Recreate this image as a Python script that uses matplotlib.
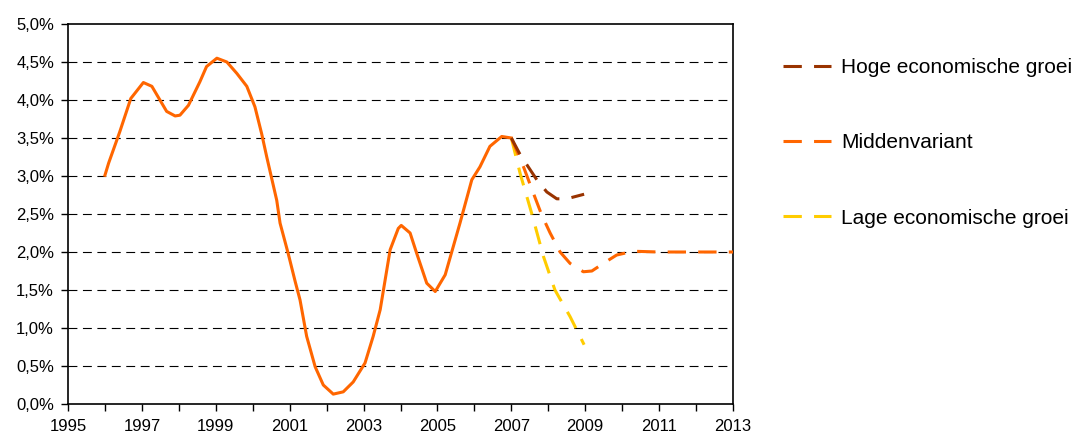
import matplotlib
matplotlib.use("Agg")
import matplotlib.pyplot as plt
from matplotlib.ticker import MultipleLocator, FixedLocator, FuncFormatter

plt.rcParams['font.family'] = ['Liberation Sans', 'DejaVu Sans']

# Historical inflation (%)
hist_years = [1996.0, 1996.1, 1996.4, 1996.7, 1997.04, 1997.27, 1997.67, 1997.9, 1998.03,
              1998.26, 1998.57, 1998.75, 1999.03, 1999.3, 1999.57, 1999.84, 2000.06,
              2000.24, 2000.38, 2000.65, 2000.74, 2000.96, 2001.15, 2001.28, 2001.46,
              2001.69, 2001.91, 2002.18, 2002.45, 2002.72, 2003.04, 2003.26, 2003.45,
              2003.72, 2003.94, 2004.02, 2004.26, 2004.44, 2004.71, 2004.94, 2005.21,
              2005.61, 2005.93, 2006.15, 2006.42, 2006.74, 2007.0]
hist_vals = [3.01, 3.17, 3.58, 4.02, 4.23, 4.18, 3.85, 3.79, 3.80,
             3.93, 4.24, 4.44, 4.55, 4.50, 4.35, 4.18, 3.91,
             3.56, 3.25, 2.68, 2.38, 1.98, 1.61, 1.37, 0.89,
             0.49, 0.25, 0.13, 0.16, 0.29, 0.54, 0.89, 1.24,
             2.03, 2.31, 2.35, 2.25, 1.98, 1.59, 1.48, 1.70,
             2.38, 2.95, 3.12, 3.39, 3.52, 3.50]

# Scenario: high growth
hoog_years = [2007.0, 2007.24, 2007.69, 2007.96, 2008.23, 2008.5, 2008.97]
hoog_vals = [3.50, 3.28, 2.95, 2.79, 2.70, 2.70, 2.76]

# Scenario: middle variant
midden_years = [2007.0, 2007.33, 2007.6, 2007.82, 2008.05, 2008.32, 2008.59, 2008.95,
                2009.18, 2009.49, 2009.85, 2010.3, 2011.0, 2012.0, 2013.0]
midden_vals = [3.50, 3.12, 2.77, 2.49, 2.25, 2.00, 1.85, 1.74,
               1.75, 1.85, 1.96, 2.01, 2.00, 2.00, 2.00]

# Scenario: low growth
laag_years = [2007.0, 2007.24, 2007.55, 2007.87, 2008.18, 2008.59, 2008.97]
laag_vals = [3.50, 3.03, 2.51, 1.94, 1.50, 1.15, 0.78]

labels = ['Hoge economische groei', 'Middenvariant', 'Lage economische groei']
colors = ['#993300', '#FF6600', '#FFCC00']
xticks = [1995, 1997, 1999, 2001, 2003, 2005, 2007, 2009, 2011, 2013]

fig = plt.figure(figsize=(10.78, 4.36), dpi=100)
ax = fig.add_axes([68 / 1078, 1 - 404 / 436, (733 - 68) / 1078, (404 - 24) / 436])

dash = (6, 4)
lw = 2.2
ax.plot(hist_years, hist_vals, color='#FF6600', lw=lw, solid_joinstyle='round', zorder=3)
h1, = ax.plot(laag_years, laag_vals, color=colors[2], lw=lw, dashes=dash, zorder=3)
h2, = ax.plot(midden_years, midden_vals, color=colors[1], lw=lw, dashes=dash, zorder=4)
h3, = ax.plot(hoog_years, hoog_vals, color=colors[0], lw=lw, dashes=dash, zorder=4)

ax.set_xlim(1995, 2013)
ax.set_ylim(0, 5)
ax.xaxis.set_major_locator(FixedLocator(xticks))
ax.xaxis.set_minor_locator(MultipleLocator(1))
ax.yaxis.set_major_locator(MultipleLocator(0.5))
ax.yaxis.set_major_formatter(FuncFormatter(lambda v, p: f"{v:.1f}%".replace('.', ',')))
ax.tick_params(axis='both', which='both', direction='out', length=5, width=1, labelsize=12, color='black')
ax.tick_params(axis='x', pad=6)
ax.tick_params(axis='y', pad=5)

for v in [0.5, 1, 1.5, 2, 2.5, 3, 3.5, 4, 4.5]:
    ax.axhline(v, color='black', lw=0.8, dashes=(8, 5), zorder=1)

for s in ax.spines.values():
    s.set_linewidth(1.2)
    s.set_color('black')

fig.legend([h3, h2, h1], labels, loc='upper left', bbox_to_anchor=(783 / 1078, 1 - 58 / 436),
           frameon=False, fontsize=15, handlelength=2.3, handletextpad=0.5,
           labelspacing=2.7, borderpad=0, borderaxespad=0)

fig.savefig('out.png', dpi=100)
